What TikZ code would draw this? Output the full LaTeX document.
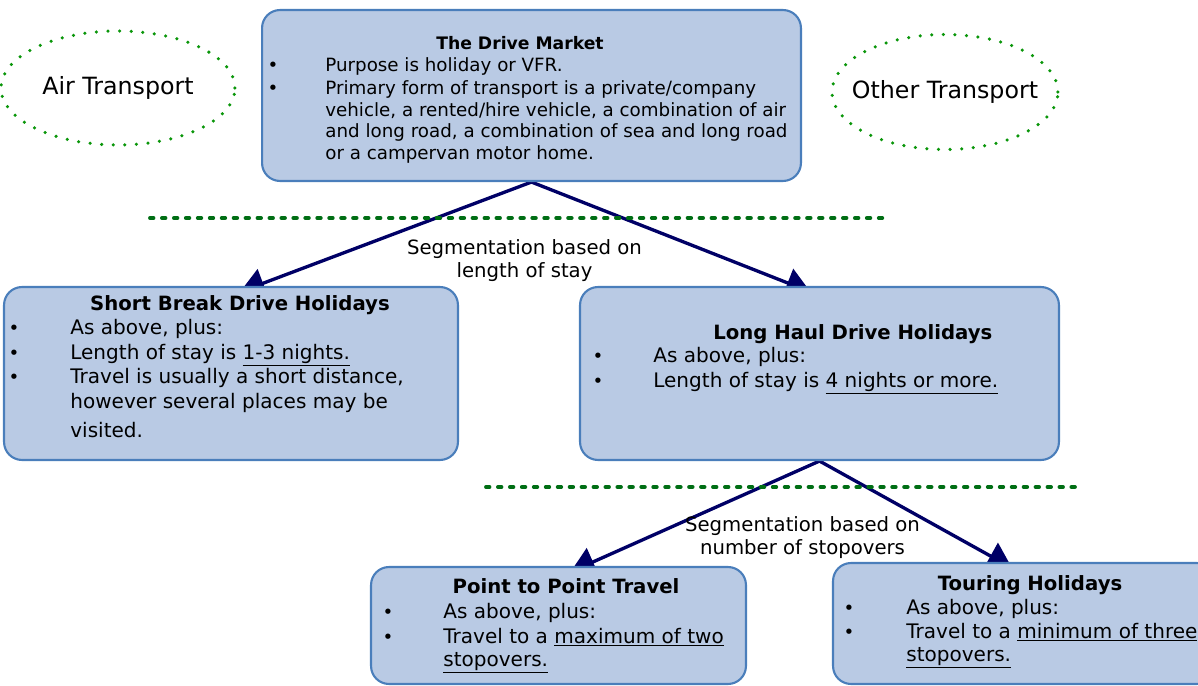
\documentclass[tikz,border=0pt]{standalone}
\usepackage{fontspec}
\setmainfont{DejaVu Sans}
\usetikzlibrary{arrows.meta,backgrounds,shapes.geometric}

\definecolor{boxfill}{HTML}{B9CAE4}
\definecolor{boxline}{HTML}{4A7EBB}
\definecolor{arrowblue}{HTML}{000066}
\definecolor{dashgreen}{HTML}{006E14}
\definecolor{dotgreen}{HTML}{0A960A}

\begin{document}
\begin{tikzpicture}[x=0.02cm,y=-0.02cm]
	\tikzstyle{box} = [draw=boxline, fill=boxfill, line width=1.2pt, rounded corners=0.36cm, inner sep=0pt]
	\tikzstyle{oval} = [ellipse, draw=dotgreen, line width=2pt, dash pattern=on 0pt off 6.6pt, line cap=round, font=\fontsize{13.5}{16}\selectfont, inner xsep=-8pt, inner ysep=0pt]
	\tikzstyle{divider} = [draw=dashgreen, line width=2.2pt, dash pattern=on 2pt off 4.8pt, line cap=round]
	\tikzstyle{link} = [draw=arrowblue, line width=1.9pt, -{Triangle[length=14pt,width=17pt]}]
	\tikzstyle{txt} = [anchor=base west, inner sep=0pt, font=\fontsize{11.4}{13}\selectfont]
	\tikzstyle{toptxt} = [txt, font=\fontsize{10.4}{12}\selectfont]
	\tikzstyle{title} = [anchor=base, inner sep=0pt, font=\fontsize{11.2}{13}\selectfont\bfseries]
	\tikzstyle{dot} = [anchor=base, inner sep=0pt, font=\fontsize{10.4}{12}\selectfont]
	\tikzstyle{note} = [anchor=base, inner sep=0pt, font=\fontsize{11.2}{13}\selectfont]
	\useasboundingbox (0,0) rectangle (1198,686);

	% boxes
	\node[box, minimum width=10.78cm, minimum height=3.42cm] (market) at (531.5,95.5) {};
	\node[box, minimum width=9.08cm, minimum height=3.46cm] (short) at (231,373.5) {};
	\node[box, minimum width=9.58cm, minimum height=3.46cm] (long) at (819.5,373.5) {};
	\node[box, minimum width=7.5cm, minimum height=2.34cm] (ptp) at (558.5,625.5) {};
	\node[box, minimum width=7.64cm, minimum height=2.42cm] (touring) at (1024,623.5) {};

	% other modes
	\node[oval, minimum width=4.68cm, minimum height=2.28cm] (air) at (118,88) {Air Transport};
	\node[oval, minimum width=4.52cm, minimum height=2.3cm] (other) at (945,92) {Other Transport};

	% dividers
	\coordinate (d1a) at (150,218);
	\coordinate (d1b) at (884,218);
	\coordinate (d2a) at (486,487);
	\coordinate (d2b) at (1075,487);
	\draw[divider] (d1a) -- (d1b);
	\draw[divider] (d2a) -- (d2b);

	% links
	\begin{scope}[on background layer]
		\draw[link] (market.south) -- ([xshift=0.18cm,yshift=-0.12cm]short.north);
		\draw[link] (market.south) -- ([xshift=-0.18cm,yshift=-0.12cm]long.north);
		\draw[link] (long.south) -- ([xshift=0.24cm,yshift=-0.12cm]ptp.north);
		\draw[link] (long.south) -- ([xshift=-0.24cm,yshift=-0.12cm]touring.north);
	\end{scope}
	\node[note] (seg1a) at (524.5,255) {Segmentation based on};
	\node[note] (seg1b) at (524.5,277) {length of stay};
	\node[note] (seg2a) at (802.5,531) {Segmentation based on};
	\node[note] (seg2b) at (802.5,554) {number of stopovers};

	% the drive market
	\node[title, font=\fontsize{9.8}{12}\selectfont\bfseries] (mtitle) at (520,50) {The Drive Market};
	\node[dot] (mb1) at (273,72) {\textbullet};
	\node[dot] (mb2) at (273,95) {\textbullet};
	\node[toptxt] (m1) at (325,72) {Purpose is holiday or VFR.};
	\node[toptxt] (m2) at (325,95) {Primary form of transport is a private/company};
	\node[toptxt] (m3) at (325,117) {vehicle, a rented/hire vehicle, a combination of air};
	\node[toptxt] (m4) at (325,138) {and long road, a combination of sea and long road};
	\node[toptxt] (m5) at (325,160) {or a campervan motor home.};

	% short break
	\node[title] (stitle) at (240,310) {Short Break Drive Holidays};
	\node[dot] (sb1) at (14,335) {\textbullet};
	\node[dot] (sb2) at (14,359) {\textbullet};
	\node[dot] (sb3) at (14,383) {\textbullet};
	\node[txt] (s1) at (70,335) {As above, plus:};
	\node[txt] (s2) at (70,359) {Length of stay is \underline{1-3 nights.}};
	\node[txt] (s3) at (70,383) {Travel is usually a short distance,};
	\node[txt] (s4) at (70,408) {however several places may be};
	\node[txt] (s5) at (70,437) {visited.};

	% long haul
	\node[title, anchor=base west] (ltitle) at (713,339) {Long Haul Drive Holidays};
	\node[dot] (lb1) at (598,362) {\textbullet};
	\node[dot] (lb2) at (598,387) {\textbullet};
	\node[txt] (l1) at (653,362) {As above, plus:};
	\node[txt] (l2) at (653,387) {Length of stay is \underline{4 nights or more.}};

	% point to point
	\node[title] (ptitle) at (566,593) {Point to Point Travel};
	\node[dot] (pb1) at (388,618) {\textbullet};
	\node[dot] (pb2) at (388,643) {\textbullet};
	\node[txt] (p1) at (443,618) {As above, plus:};
	\node[txt] (p2) at (443,643) {Travel to a \underline{maximum of two}};
	\node[txt] (p3) at (443,666) {\underline{stopovers.}};

	% touring
	\node[title] (ttitle) at (1030,590) {Touring Holidays};
	\node[dot] (tb1) at (849,614) {\textbullet};
	\node[dot] (tb2) at (849,638) {\textbullet};
	\node[txt] (t1) at (906,614) {As above, plus:};
	\node[txt] (t2) at (906,638) {Travel to a \underline{minimum of three}};
	\node[txt] (t3) at (906,661) {\underline{stopovers.}};
\end{tikzpicture}
\end{document}
